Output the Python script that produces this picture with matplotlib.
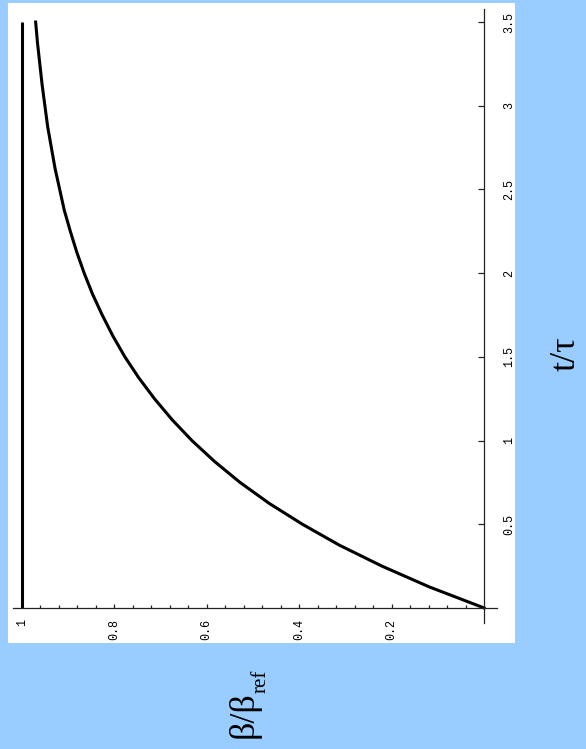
import numpy as np
import matplotlib
matplotlib.use("Agg")
import matplotlib.pyplot as plt
from matplotlib.ticker import FixedLocator

# values (time in units of tau, relative beta)
t_tau = [0, 0.125, 0.25, 0.375, 0.5, 0.625, 0.75, 0.875, 1.0, 1.125, 1.25, 1.375,
         1.5, 1.625, 1.75, 1.875, 2.0, 2.125, 2.25, 2.375, 2.5, 2.625, 2.75,
         2.875, 3.0, 3.125, 3.25, 3.375, 3.5]
beta_rel = [0, 0.118, 0.221, 0.313, 0.393, 0.465, 0.528, 0.583, 0.632, 0.675,
            0.713, 0.747, 0.777, 0.803, 0.826, 0.847, 0.865, 0.881, 0.895, 0.908,
            0.918, 0.928, 0.936, 0.944, 0.950, 0.956, 0.961, 0.966, 0.970]
ref_t = [0, 3.5]
ref_beta = [1.0, 1.0]

beta_ticks = [1, 0.8, 0.6, 0.4, 0.2]
beta_labels = ["1", "0.8", "0.6", "0.4", "0.2"]
t_ticks = [0.5, 1, 1.5, 2, 2.5, 3, 3.5]
t_labels = ["0.5", "1", "1.5", "2", "2.5", "3", "3.5"]

W, H = 586, 749
fig = plt.figure(figsize=(W / 100, H / 100), dpi=100, facecolor="#99ccff")

# white panel behind the plot
bg = fig.add_axes([8 / W, 1 - 643 / H, 507 / W, 640 / H], zorder=0)
bg.set_facecolor("white")
bg.set_xticks([])
bg.set_yticks([])
for s in bg.spines.values():
    s.set_visible(False)

# the plot is shown turned 90 degrees: beta runs right-to-left, t runs upward
ax = fig.add_axes([13 / W, 1 - 623 / H, 484 / W, 614 / H], zorder=1)
ax.patch.set_visible(False)
ax.set_xlim(1.019, -0.028)
ax.set_ylim(-0.09, 3.578)

ax.plot(ref_beta, ref_t, color="black", lw=2.2, solid_capstyle="butt")
ax.plot(beta_rel, t_tau, color="black", lw=2.2, solid_joinstyle="round")

for s in ["top", "left"]:
    ax.spines[s].set_visible(False)
ax.spines["bottom"].set_position(("data", 0))
ax.spines["right"].set_position(("data", 0))
for s in ["bottom", "right"]:
    ax.spines[s].set_linewidth(0.9)
    ax.spines[s].set_color("#222222")

mono = "Liberation Mono"
ax.xaxis.set_major_locator(FixedLocator(beta_ticks))
ax.xaxis.set_minor_locator(FixedLocator(np.arange(0.04, 1.0, 0.04)))
ax.set_xticklabels(beta_labels, rotation=90, fontfamily=mono, fontsize=8.5)
ax.tick_params(axis="x", which="major", direction="in", length=3, width=0.9,
               pad=8, color="#222222")
ax.tick_params(axis="x", which="minor", direction="in", length=2, width=0.9,
               color="#222222")

ax.yaxis.tick_right()
ax.yaxis.set_major_locator(FixedLocator(t_ticks))
ax.set_yticklabels(t_labels, rotation=90, va="center", fontfamily=mono,
                   fontsize=8.5)
ax.tick_params(axis="y", which="major", direction="in", length=4, width=0.9,
               pad=14, color="#222222")

# axis names, set outside the panel
serif = "Liberation Serif"
fig.text(566 / W, 1 - 354 / H, "t/τ", rotation=90, ha="center",
         va="center", fontsize=26, family=serif)
fig.text(244 / W, 1 - 715 / H, "β/β", rotation=90, ha="center",
         va="center", fontsize=26, family=serif)
fig.text(261 / W, 1 - 681 / H, "ref", rotation=90, ha="center",
         va="center", fontsize=15, family=serif)

fig.savefig("out.png", dpi=100, facecolor=fig.get_facecolor())
